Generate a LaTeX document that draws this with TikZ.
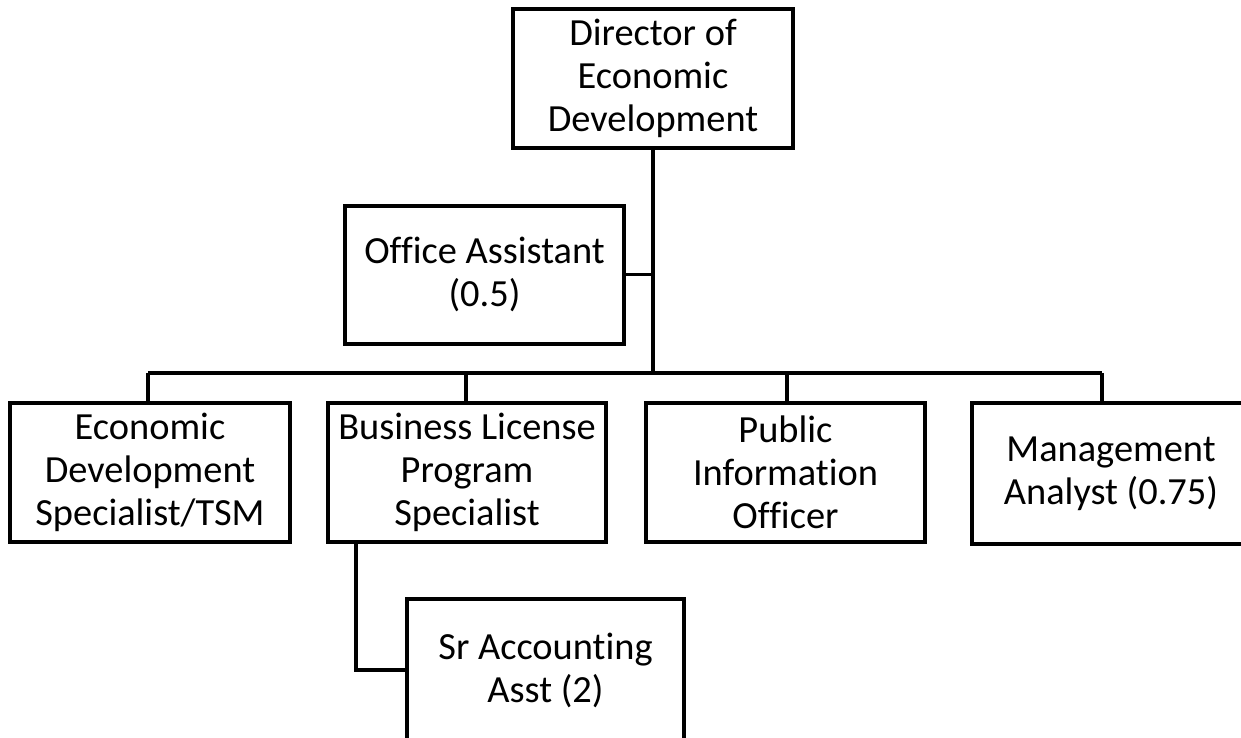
\documentclass[tikz,border=0pt]{standalone}
\usepackage{fontspec}
\setmainfont[Ligatures={NoCommon}]{Carlito}
\usepackage{tikz}
\usetikzlibrary{positioning}

\begin{document}
\begin{tikzpicture}[x=0.5pt, y=-0.5pt, font=\fontsize{19.2}{21.5}\selectfont,
        post/.style={draw, line width=2pt, align=center, inner sep=0pt,
          minimum width=139.5pt, minimum height=69.5pt},
        link/.style={line width=2pt}]
        \useasboundingbox (0,0) rectangle (1241,738);
        \clip (0,0) rectangle (1241,738);
        \node[post, minimum width=140pt] (dir) at (653,78.5) {Director of\\Economic\\Development};
        \node[post, minimum height=69pt] (oa) at (484.5,274.5) {Office Assistant\\(0.5)};
        \node[post, minimum width=140pt] (eds) at (150,472.5) {Economic\\Development\\Specialist/TSM};
        \node[post, minimum width=139pt] (bls) at (467,472.5) {Business License\\Program\\Specialist};
        \node[post] (pio) at (785.5,472.5) {Public\\Information\\Officer};
        \node[post, minimum width=139pt, minimum height=70.5pt] (ma) at (1111,473.5) {Management\\Analyst (0.75)};
        \node[post, minimum width=138.5pt, minimum height=71pt] (sra) at (545.5,670) {Sr Accounting\\Asst (2)};
        \coordinate (bar) at (652,373);
        % reporting lines
        \draw[link, line width=2.4pt] (dir) -- (dir.south |- bar);
        \draw[link, line width=1.5pt] (oa.east) -- (oa.east -| bar);
        \draw[link] ([xshift=-1pt]eds.north |- bar) -- ([xshift=-4.5pt]ma.north |- bar);
        \foreach \n/\dx in {eds/-1pt, bls/-0.5pt, pio/0.5pt, ma/-4.5pt}
          \draw[link] ([xshift=\dx]\n.north) -- ([xshift=\dx]\n.north |- bar);
        \draw[link] ([xshift=-55.5pt]bls.south) |- (sra.west);
      \end{tikzpicture}
\end{document}
